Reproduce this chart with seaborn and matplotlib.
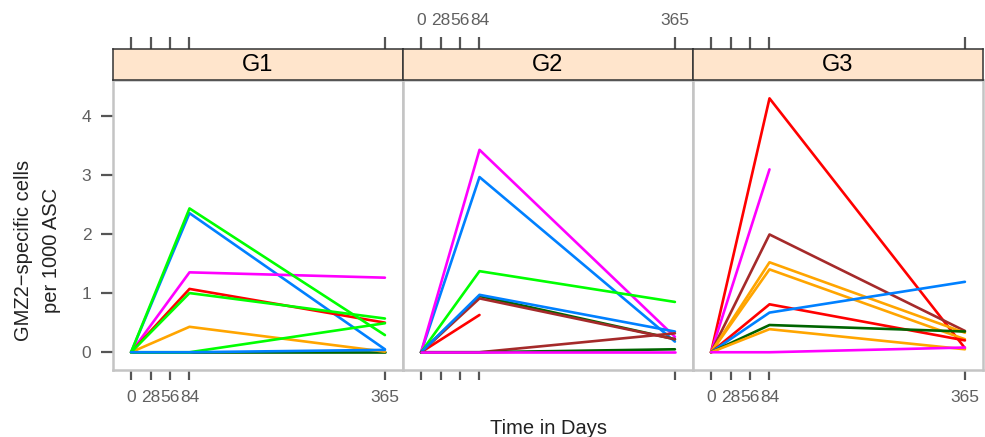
import numpy as np
import pandas as pd
import matplotlib
matplotlib.use("Agg")
import matplotlib.pyplot as plt
import seaborn as sns

# ---------------- data ----------------
days = [0, 84, 365]
tick_days = [0, 28, 56, 84, 365]
groups = ["G1", "G2", "G3"]

g1_colors = ["#0080ff", "#ff00ff", "#006400", "#ff0000", "#ffa500", "#00ff00", "#00ff00", "#00ff00", "#0080ff"]
g1_d84 = [2.35, 1.35, 0.00, 1.07, 0.43, 2.43, 1.00, 0.00, 0.00]
g1_d365 = [0.05, 1.26, 0.00, 0.50, 0.01, 0.29, 0.57, 0.49, 0.04]

g2_colors = ["#0080ff", "#ff00ff", "#006400", "#ff0000", "#00ff00", "#a52a2a", "#0080ff", "#a52a2a", "#006400", "#ff00ff"]
g2_d84 = [2.96, 3.42, 0.95, 0.63, 1.37, 0.91, 0.97, 0.00, 0.00, 0.00]
g2_d365 = [0.18, 0.26, 0.22, np.nan, 0.85, 0.22, 0.35, 0.32, 0.05, 0.00]

g3_colors = ["#ff0000", "#ff00ff", "#a52a2a", "#ffa500", "#ffa500", "#ff0000", "#0080ff", "#006400", "#ffa500", "#ff00ff"]
g3_d84 = [4.29, 3.09, 1.99, 1.52, 1.40, 0.81, 0.67, 0.46, 0.39, 0.00]
g3_d365 = [0.07, np.nan, 0.36, 0.33, 0.22, 0.20, 1.19, 0.35, 0.05, 0.08]

group_data = {
    "G1": (g1_colors, g1_d84, g1_d365),
    "G2": (g2_colors, g2_d84, g2_d365),
    "G3": (g3_colors, g3_d84, g3_d365),
}

rows = []
for g in groups:
    cols, d84, d365 = group_data[g]
    for i in range(len(cols)):
        sid = f"{g}_S{i+1}"
        for d, v in zip(days, [0.0, d84[i], d365[i]]):
            if not np.isnan(v):
                rows.append(dict(group=g, subject=sid, day=d, value=v, color=cols[i]))
df = pd.DataFrame(rows)

# ---------------- style ----------------
sns.set_style("white")
plt.rcParams["font.family"] = ["Liberation Sans", "DejaVu Sans"]

tick_col = "#555555"
lab_col = "#606060"

fig = plt.figure(figsize=(9.85, 4.37), dpi=100)
W, H = 985.0, 437.0
left0, pw = 113.0, 290.0
ptop, pbot = 80.0, 370.0
stop = 49.0

for k, g in enumerate(groups):
    x0 = left0 + k * pw
    ax = fig.add_axes([x0 / W, (H - pbot) / H, pw / W, (pbot - ptop) / H])
    sax = fig.add_axes([x0 / W, (H - ptop) / H, pw / W, (ptop - stop) / H])

    sub = df[df.group == g]
    pal = dict(zip(sub.subject, sub.color))
    sns.lineplot(data=sub, x="day", y="value", hue="subject", palette=pal,
                 units="subject", estimator=None, legend=False, ax=ax,
                 linewidth=1.9, sort=True)

    ax.set_xlim(-26, 391)
    ax.set_ylim(-0.30, 4.60)
    ax.set_xlabel("")
    ax.set_ylabel("")
    ax.set_facecolor("white")
    for sp in ax.spines.values():
        sp.set_color("#c4c4c4")
        sp.set_linewidth(1.8)
        sp.set_visible(True)

    ax.set_xticks(tick_days)
    ax.tick_params(axis="x", which="both", bottom=True, top=False, direction="out",
                   length=7.5, width=1.6, color=tick_col, labelcolor=lab_col,
                   labelsize=12.5, pad=7)
    if k == 1:
        ax.set_xticklabels([])
    else:
        ax.set_xticklabels([str(t) for t in tick_days])

    ax.set_yticks([0, 1, 2, 3, 4])
    if k == 0:
        ax.tick_params(axis="y", left=True, direction="out", length=8.5, width=1.6,
                       color=tick_col, labelcolor=lab_col, labelsize=12.5, pad=7)
    else:
        ax.tick_params(axis="y", left=False, labelleft=False)

    # strip
    sax.set_facecolor("#ffe5cc")
    sax.set_xlim(-26, 391)
    sax.set_ylim(0, 1)
    sax.set_yticks([])
    for sp in sax.spines.values():
        sp.set_color("#333333")
        sp.set_linewidth(1.1)
    sax.xaxis.set_ticks_position("top")
    sax.set_xticks(tick_days)
    sax.tick_params(axis="x", top=True, bottom=False, direction="out",
                    length=9, width=1.6, color=tick_col, labelcolor=lab_col,
                    labelsize=12.5, pad=6, labeltop=(k == 1), labelbottom=False)
    if k == 1:
        sax.set_xticklabels([str(t) for t in tick_days])
    sax.text(0.5, 0.47, g, transform=sax.transAxes, ha="center", va="center",
             fontsize=17, color="black")

fig.text(548 / W, (H - 428) / H, "Time in Days", ha="center", va="center",
         fontsize=14.5, color="#222222")
fig.text(38 / W, (H - 250) / H, "GMZ2\u2212specific cells\nper 1000 ASC", ha="center",
         va="center", rotation=90, fontsize=14.5, color="#222222", linespacing=1.6)

fig.savefig("out.png", dpi=100)
